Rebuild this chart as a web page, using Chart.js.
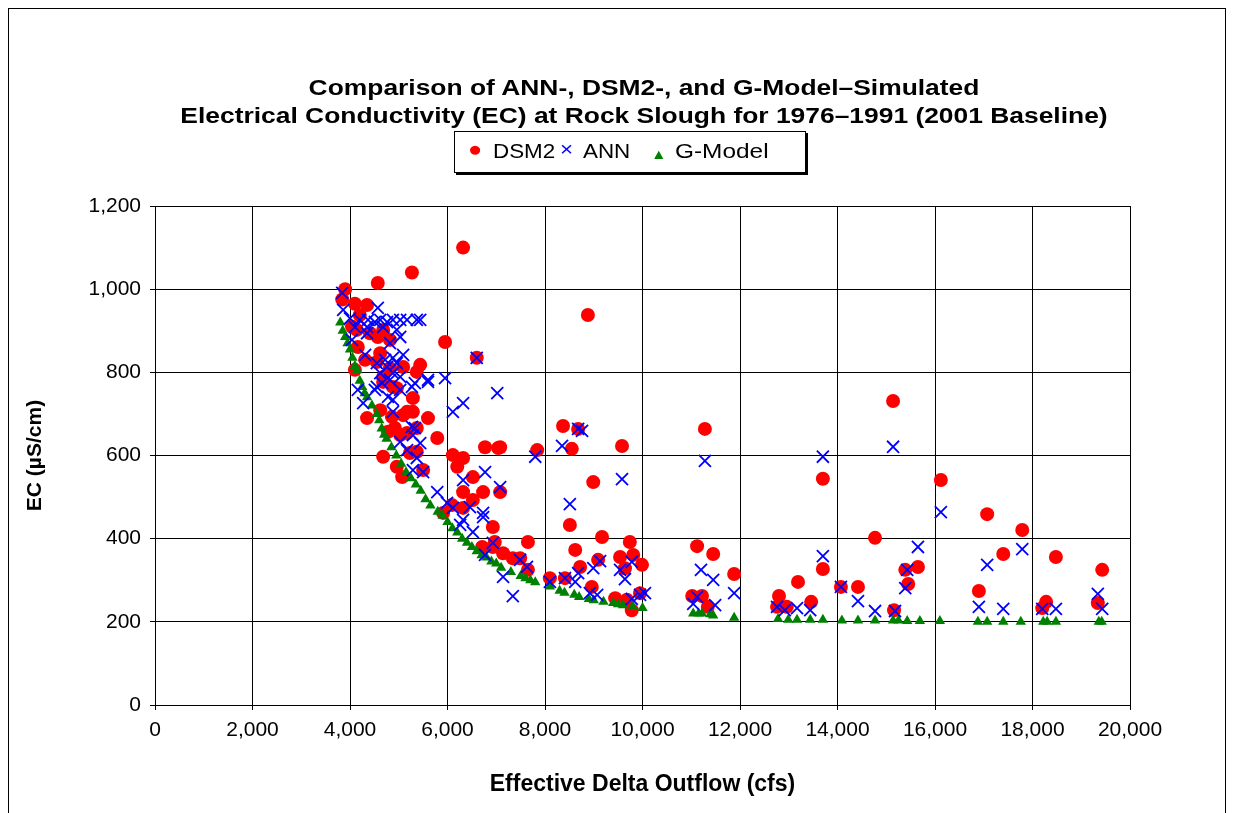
<!DOCTYPE html>
<html>
<head>
<meta charset="utf-8">
<script src="https://cdn.jsdelivr.net/npm/chart.js@4.4.1/dist/chart.umd.min.js"></script>
<style>
  body { margin: 0; background: #fff; font-family: "Liberation Sans", Arial, sans-serif; }
  #wrap { position: relative; width: 1233px; height: 813px; overflow: hidden; }
  #frame { position: absolute; left: 8px; top: 8px; width: 1216px; height: 830px; border: 1px solid #000; }
  #title { position: absolute; left: 0; top: 74px; width: 1288px; text-align: center; font-weight: bold; font-size: 22px; line-height: 28px; color: #000;
           transform: scaleX(1.2); transform-origin: 644px 0; }
  #legend { position: absolute; left: 454px; top: 131px; width: 350px; height: 40px; border: 1px solid #000; box-shadow: 2px 2px 0 #000; background: #fff;
            font-size: 20px; }
  #legend div { position: absolute; top: 8px; white-space: nowrap; transform: scaleX(1.12); transform-origin: 0 0; }
  canvas { position: absolute; left: 0; top: 0; }
</style>
</head>
<body>
<div id="wrap">
  <div id="frame"></div>
  <canvas id="chart" width="1233" height="813"></canvas>
  <div id="title">Comparison of ANN-, DSM2-, and G-Model–Simulated<br>Electrical Conductivity (EC) at Rock Slough for 1976–1991 (2001 Baseline)</div>
  <div id="legend">
    <div style="left:13px;top:5px"><span style="color:#ff0000;font-size:21px">●</span></div>
    <div style="left:38px">DSM2</div>
    <div style="left:105px;top:6px"><span style="color:#0000ff;font-size:20px">×</span></div>
    <div style="left:128px">ANN</div>
    <div style="left:196px;top:9px"><span style="color:#008000;font-size:14px">▲</span></div>
    <div style="left:220px;transform:scaleX(1.22)">G-Model</div>
  </div>
</div>
<script>
// DSM2 simulated EC
const dsm2X = [3840, 3900, 4100, 4350, 4200, 4040, 4140, 4410, 4570, 4680, 4820, 4160, 4620, 4550, 4310, 4820, 5090, 5440, 5370, 4680,
  4880, 4960, 4680, 5290, 4100, 4570, 5270, 6320, 5950, 6600, 8880, 4350, 4620, 4860, 5090, 5290, 5600, 4920, 4780, 5030,
  5170, 5370, 5790, 4680, 4960, 5070, 5230, 5370, 5500, 6110, 6320, 6200, 6770, 7040, 6520, 6320, 6730, 6520, 6320, 6090,
  5910, 6930, 6930, 6710, 5170, 8370, 8680, 8550, 9580, 7840, 7080, 8990, 7080, 8510, 6970, 9170, 9740, 7650, 8620, 7140,
  7340, 7490, 9090, 9540, 9810, 9990, 8720, 9640, 7650, 8100, 8410, 8960, 9440, 9780, 9950, 9680, 11280, 15140, 13700, 11120,
  11450, 11880, 14770, 13190, 13700, 12800, 11020, 11220, 11340, 12960, 12760, 13460, 14070, 14420, 15160, 15390, 15450, 15650, 16120, 17070,
  17790, 17400, 18480, 19430, 16900, 18280, 18200, 19340];
const dsm2Y = [975, 1000, 965, 962, 938, 910, 902, 894, 885, 902, 878, 861, 846, 825, 830, 810, 813, 818, 801, 789,
  765, 762, 777, 738, 806, 1015, 1040, 1100, 873, 835, 938, 690, 709, 693, 697, 705, 690, 666, 657, 649,
  654, 666, 642, 597, 573, 548, 606, 609, 565, 601, 594, 573, 620, 618, 548, 512, 512, 493, 474, 481,
  462, 428, 380, 380, 705, 671, 664, 616, 623, 613, 620, 536, 512, 433, 392, 404, 392, 392, 373, 365,
  353, 353, 349, 356, 361, 337, 332, 329, 325, 305, 305, 284, 257, 228, 269, 253, 664, 731, 544, 382,
  363, 315, 402, 296, 327, 262, 262, 262, 236, 236, 236, 248, 284, 284, 228, 325, 291, 332, 541, 459,
  421, 363, 356, 325, 274, 248, 233, 245];

// ANN simulated EC
const annX = [3840, 4570, 3860, 4000, 4200, 4370, 4510, 4620, 4760, 4880, 5030, 5170, 5370, 5440, 4100, 4350, 4680, 4960, 4040, 4350,
  4820, 5030, 5090, 4880, 4310, 4550, 4720, 4760, 4960, 6600, 7020, 5950, 5600, 5330, 4880, 5030, 4620, 4660, 4820, 4510,
  5030, 4780, 5270, 4160, 4270, 4550, 6320, 6110, 4880, 4880, 5270, 5600, 5330, 5290, 5440, 5370, 5290, 5500, 5030, 5170,
  5790, 5990, 6110, 6320, 6730, 6320, 6260, 6460, 6520, 6930, 6770, 6770, 7080, 6730, 8680, 8760, 8350, 7800, 9580, 8510,
  9130, 8990, 9540, 9780, 9640, 7490, 7630, 7140, 7340, 8100, 8410, 8620, 8680, 9780, 9950, 10050, 8920, 9070, 11280, 15140,
  13700, 13700, 11200, 11450, 11880, 11040, 11120, 11490, 12760, 12920, 13170, 13440, 14070, 14420, 14770, 15180, 15390, 15430, 15650, 16120,
  17790, 17070, 16900, 17400, 18200, 18480, 19340, 19430];
const annY = [991, 955, 950, 930, 926, 926, 921, 926, 921, 926, 926, 926, 926, 926, 909, 909, 909, 902, 878, 894,
  870, 885, 842, 835, 842, 822, 830, 813, 822, 835, 750, 786, 777, 774, 798, 789, 798, 774, 782, 758,
  758, 741, 765, 758, 726, 765, 726, 705, 734, 705, 669, 782, 666, 649, 630, 594, 565, 560, 633, 613,
  512, 486, 474, 541, 462, 445, 433, 476, 416, 390, 361, 560, 524, 452, 664, 659, 623, 597, 543, 483,
  346, 329, 325, 344, 303, 349, 332, 308, 262, 296, 305, 296, 317, 255, 265, 269, 269, 265, 587, 621,
  597, 358, 325, 301, 269, 243, 260, 240, 236, 228, 233, 228, 284, 250, 226, 226, 281, 325, 380, 464,
  375, 337, 236, 231, 231, 231, 267, 231];

// G-Model simulated EC
const gX = [3800, 3850, 3900, 3950, 4000, 4050, 4100, 4150, 4200, 4250, 4300, 4350, 4450, 4550, 4600, 4650, 4700, 4750, 4850, 4950,
  5050, 5150, 5250, 5350, 5450, 5550, 5650, 5800, 5900, 6000, 6100, 6200, 6300, 6400, 6500, 6600, 6700, 6800, 6900, 7000,
  7100, 7300, 7500, 7600, 7700, 7800, 8100, 8300, 8400, 8600, 8700, 8900, 9000, 9200, 9400, 9500, 9600, 9800, 10000, 11040,
  11150, 11220, 11390, 11450, 11880, 12780, 12990, 13170, 13440, 13700, 14090, 14420, 14770, 15140, 15250, 15430, 15690, 16100, 16880, 17070,
  17400, 17760, 18220, 18300, 18480, 19360, 19420];
const gY = [920, 900, 885, 870, 855, 835, 815, 805, 780, 765, 750, 740, 720, 700, 685, 665, 650, 640, 620, 600,
  580, 560, 545, 530, 515, 495, 480, 465, 455, 440, 425, 415, 400, 390, 380, 370, 360, 355, 345, 340,
  330, 320, 310, 305, 300, 295, 285, 275, 270, 265, 260, 255, 252, 248, 245, 242, 240, 237, 233, 220,
  220, 220, 218, 215, 210, 207, 205, 205, 205, 205, 203, 203, 203, 203, 203, 202, 202, 202, 200, 200,
  200, 200, 200, 200, 200, 200, 200];

const xTicks = [0, 2000, 4000, 6000, 8000, 10000, 12000, 14000, 16000, 18000, 20000];
const yTicks = [0, 200, 400, 600, 800, 1000, 1200];

function pts(xs, ys) {
  return xs.map((x, i) => ({ x: x, y: ys[i] }));
}

const font = { family: '"Liberation Sans", Arial, sans-serif' };

new Chart(document.getElementById('chart'), {
  type: 'scatter',
  data: {
    datasets: [
      { label: 'DSM2', data: pts(dsm2X, dsm2Y), pointStyle: 'circle', pointRadius: 7, pointHoverRadius: 7,
        backgroundColor: '#ff0000', borderColor: '#ff0000', borderWidth: 0, order: 3 },
      { label: 'ANN', data: pts(annX, annY), pointStyle: 'crossRot', pointRadius: 8.5, pointHoverRadius: 8.5,
        backgroundColor: '#0000ff', borderColor: '#0000ff', borderWidth: 1.8, order: 1 },
      { label: 'G-Model', data: pts(gX, gY), pointStyle: 'triangle', pointRadius: 6, pointHoverRadius: 6,
        backgroundColor: '#008000', borderColor: '#008000', borderWidth: 0, order: 2 }
    ]
  },
  options: {
    responsive: false,
    animation: false,
    layout: { padding: { left: 10, right: 103, top: 206, bottom: 0 } },
    plugins: { legend: { display: false }, title: { display: false }, tooltip: { enabled: false } },
    scales: {
      x: {
        type: 'linear', min: 0, max: 20000,
        afterBuildTicks: s => { s.ticks = xTicks.map(v => ({ value: v })); },
        afterFit: s => { s.height = 108; },
        grid: { color: '#000', lineWidth: 1, tickLength: 5, drawTicks: true },
        border: { color: '#000', width: 1 },
        ticks: { color: '#000', padding: 8, maxRotation: 0, font: { ...font, size: 21 },
                 callback: v => v.toLocaleString('en-US') },
        title: { display: true, text: 'Effective Delta Outflow (cfs)', color: '#000',
                 font: { ...font, size: 23, weight: 'bold' }, padding: { top: 0, bottom: 15 } }
      },
      y: {
        type: 'linear', min: 0, max: 1200,
        afterBuildTicks: s => { s.ticks = yTicks.map(v => ({ value: v })); },
        afterFit: s => { s.width = 145; },
        grid: { color: '#000', lineWidth: 1, tickLength: 5 },
        border: { color: '#000', width: 1 },
        ticks: { color: '#000', padding: 9, font: { ...font, size: 21 },
                 callback: v => v.toLocaleString('en-US') },
        title: { display: true, text: 'EC (µS/cm)', color: '#000',
                 font: { ...font, size: 21, weight: 'bold' }, padding: { top: 13, bottom: 0 } }
      }
    }
  }
});
</script>
</body>
</html>
